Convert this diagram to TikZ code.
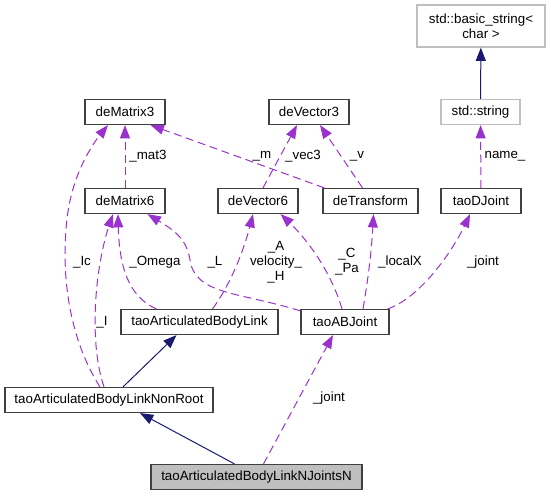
\documentclass[tikz,border=0pt]{standalone}
\usepackage{fontspec}
\setmainfont{Liberation Sans}
\usetikzlibrary{calc,arrows.meta,bending}
\definecolor{edgeblue}{HTML}{191970}
\definecolor{edgepurple}{HTML}{9A32CD}
\tikzset{>={Triangle[length=10pt,width=7.5pt]},
  cls/.style={draw=black!75,line width=0.9pt,minimum height=18.75pt,inner sep=2pt,font=\fontsize{10}{11.25}\selectfont},
  ext/.style={cls,draw=black!25,align=center},
  cur/.style={cls,fill=black!25},
  inh/.style={->,edgeblue,line width=0.75pt},
  use/.style={->,edgepurple,line width=0.75pt,dash pattern=on 6pt off 3.5pt},
  lbl/.style={font=\fontsize{10}{11.25}\selectfont,align=center,inner sep=0pt}}
\begin{document}
\begin{tikzpicture}[x=0.75pt,y=-0.75pt]
    \useasboundingbox (0,0) rectangle (551,496);
    \node[ext,minimum width=96pt,minimum height=31.5pt] at (481,26) (basic) {std::basic\_string<\\char >};
    \node[ext,minimum width=59.25pt] at (480.5,112) (string) {std::string};
    \node[cls,minimum width=60pt] at (481,201) (djoint) {taoDJoint};
    \node[cls,minimum width=60pt] at (125,112) (mat3) {deMatrix3};
    \node[cls,minimum width=60pt] at (309,112) (vec3) {deVector3};
    \node[cls,minimum width=60pt] at (125,201) (mat6) {deMatrix6};
    \node[cls,minimum width=60pt] at (258,201) (vec6) {deVector6};
    \node[cls,minimum width=71.25pt] at (370.5,201) (trans) {deTransform};
    \node[cls,minimum width=117.75pt] at (199.5,322) (link) {taoArticulatedBodyLink};
    \node[cls,minimum width=66pt] at (345,322) (abj) {taoABJoint};
    \node[cls,minimum width=156pt] at (109,400) (nonroot) {taoArticulatedBodyLinkNonRoot};
    \node[cur,minimum width=158.25pt] at (256.5,477) (njn) {taoArticulatedBodyLinkNJointsN};
    \draw[inh] (string) -- (basic);
    \draw[use] (djoint) -- (string);
    \draw[inh] ($(nonroot.north)+(14,0)$) -- ($(link.south)+(-23,0)$);
    \draw[inh] ($(njn.north)+(-22,0)$) -- ($(nonroot.south)+(31,0)$);
    \draw[use] ($(njn.north)+(7,0)$) -- ($(abj.south)+(-12,0)$);
    \draw[use] ($(abj.north east)+(-2,0)$) .. controls (420,298) and (455,250) .. ($(djoint.south)+(-11,0)$);
    \draw[use] ($(abj.north)+(18,0)$) .. controls (368,280) and (372,250) .. ($(trans.south)+(3,0)$);
    \draw[use] ($(abj.north)+(-3,0)$) .. controls (332,275) and (310,240) .. ($(vec6.south east)+(-18,0)$);
    \draw[use] ($(abj.north west)+(0,2)$) .. controls (240,292) and (195,295) .. (190,260) .. controls (186,235) and (170,228) .. ($(mat6.south east)+(-18,0)$);
    \draw[use] ($(link.north)+(13,0)$) .. controls (230,285) and (245,250) .. ($(vec6.south)+(-5,0)$);
    \draw[use] ($(link.north west)+(36,0)$) .. controls (125,295) and (118,260) .. ($(mat6.south)+(-7,0)$);
    \draw[use] ($(nonroot.north)+(-5,0)$) .. controls (88,340) and (95,260) .. ($(mat6.south)+(-12,0)$);
    \draw[use] ($(nonroot.north)+(-9,0)$) .. controls (70,340) and (62,280) .. (66,230) .. controls (69,180) and (90,145) .. ($(mat3.south)+(-17,0)$);
    \draw[use] (mat6) -- (mat3);
    \draw[use] ($(trans.north west)+(2,0)$) -- ($(mat3.south east)+(-15,0)$);
    \draw[use] ($(vec6.north)+(5,0)$) -- ($(vec3.south)+(-12,0)$);
    \draw[use] ($(trans.north)+(-8,0)$) -- ($(vec3.south)+(11,0)$);
    \node[lbl] at (505,156) (lname) {name\_};
    \node[lbl] at (329,398) (ljoint) {\_joint};
    \node[lbl] at (483,262) (ljointd) {\_joint};
    \node[lbl] at (400,262) (llocal) {\_localX};
    \node[lbl] at (347,262) (lcpa) {\_C\\\_Pa};
    \node[lbl] at (215,262) (lL) {\_L};
    \node[lbl] at (276,262) (lavh) {\_A\\velocity\_\\\_H};
    \node[lbl] at (155,262) (lomega) {\_Omega};
    \node[lbl] at (102,322) (lI) {\_I};
    \node[lbl] at (82,262) (lIc) {\_Ic};
    \node[lbl] at (148,156) (lmat3) {\_mat3};
    \node[lbl] at (262,156) (lm) {\_m};
    \node[lbl] at (303,156) (lvec3) {\_vec3};
    \node[lbl] at (357,156) (lv) {\_v};
\end{tikzpicture}
\end{document}
